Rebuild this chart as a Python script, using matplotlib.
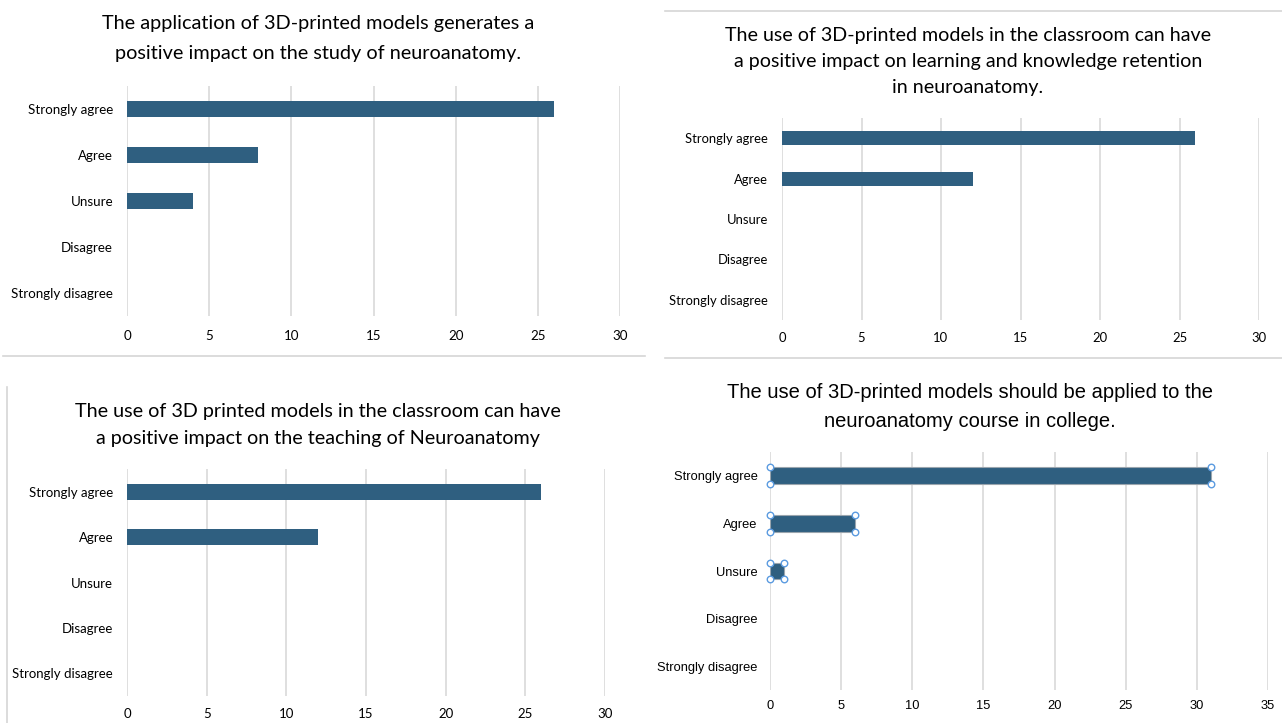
import matplotlib
matplotlib.use("Agg")
import matplotlib.pyplot as plt

# ---------------- Data ----------------
categories = ["Strongly agree", "Agree", "Unsure", "Disagree", "Strongly disagree"]

impact_study = [26, 8, 4, 0, 0]
retention = [26, 12, 0, 0, 0]
teaching = [26, 12, 0, 0, 0]
apply_course = [31, 6, 1, 0, 0]

titles = [
    "The application of 3D-printed models generates a\npositive impact on the study of neuroanatomy.",
    "The use of 3D-printed models in the classroom can have\na positive impact on learning and knowledge retention\nin neuroanatomy.",
    "The use of 3D printed models in the classroom can have\na positive impact on the teaching of Neuroanatomy",
    "The use of 3D-printed models should be applied to the\nneuroanatomy course in college.",
]

BAR = "#2F5F80"
GRID = "#D9D9D9"
W, H = 1282, 723

NARROW = "Lato"
REG = "Liberation Sans"

fig = plt.figure(figsize=(W / 100, H / 100), dpi=100)


def px_axes(left, top, right, bottom):
    return fig.add_axes([left / W, 1 - bottom / H, (right - left) / W, (bottom - top) / H])


def panel(box, values, xmax, title, title_x, title_ys, font, title_size, tick_size,
          ypad=10, xpad=10, handles=False):
    ax = px_axes(*box)
    y = list(range(len(categories)))
    bars = ax.barh(y, values, height=0.35, color=BAR, zorder=3)
    for b, v in zip(bars, values):
        b.set_joinstyle("miter")
        if handles and v > 0:
            b.set_edgecolor("#9AA5AE")
            b.set_linewidth(0.8)
        else:
            b.set_linewidth(0)
    ax.set_ylim(len(categories) - 0.5, -0.5)
    ax.set_xlim(0, xmax)
    ax.set_xticks(range(0, xmax + 1, 5))
    ax.set_yticks(y)
    ax.set_yticklabels(categories, fontfamily=font, fontsize=tick_size)
    for lab in ax.get_xticklabels():
        lab.set_fontfamily(font)
        lab.set_fontsize(tick_size)
    ax.grid(axis="x", color=GRID, linewidth=1.2, zorder=0)
    for s in ax.spines.values():
        s.set_visible(False)
    ax.tick_params(length=0, colors="#000000")
    ax.tick_params(axis="y", pad=ypad)
    ax.tick_params(axis="x", pad=xpad)
    if handles:
        # selection handles at the bar corners
        for yi, v in zip(y, values):
            if v == 0:
                continue
            xs = [0, v, 0, v]
            ys = [yi - 0.175, yi - 0.175, yi + 0.175, yi + 0.175]
            ax.scatter(xs, ys, s=22, facecolor="white", edgecolor="#5B9BE0",
                       linewidth=1.0, zorder=5, clip_on=False)
    # title lines placed one by one to keep the wide Excel line spacing
    for line, ty in zip(title.split("\n"), title_ys):
        fig.text(title_x / W, 1 - ty / H, line, ha="center", va="center",
                 fontfamily=font, fontsize=title_size)
    return ax


panel((127, 86, 620, 316), impact_study, 30, titles[0], 318, (23, 53),
      NARROW, 14.3, 9.6)
panel((782, 118, 1259, 320), retention, 30, titles[1], 968, (36, 62, 88),
      NARROW, 14.1, 9.4, xpad=9)
panel((127, 469, 605, 696), teaching, 30, titles[2], 318, (412, 439),
      NARROW, 14.2, 9.5, xpad=9)
panel((770, 452, 1268, 690), apply_course, 35, titles[3], 970, (392, 421),
      REG, 14.5, 9.3, ypad=9, xpad=7, handles=True)

# thin separators between the pasted charts
sep = dict(color="#D6D6D6", linewidth=1.2, transform=fig.transFigure)
fig.add_artist(plt.Line2D([3 / W, 645 / W], [1 - 356 / H] * 2, **sep))
fig.add_artist(plt.Line2D([665 / W, 1], [1 - 358 / H] * 2, **sep))
fig.add_artist(plt.Line2D([665 / W, 1], [1 - 11 / H] * 2, **sep))
fig.add_artist(plt.Line2D([7 / W] * 2, [1 - 387 / H, 0], **sep))

fig.savefig("out.png", dpi=100)
